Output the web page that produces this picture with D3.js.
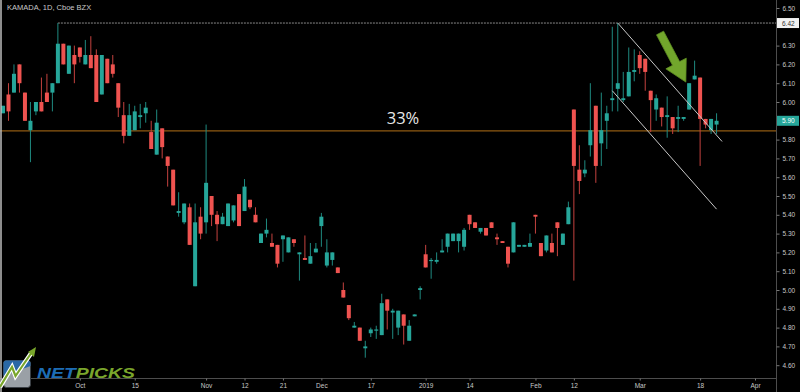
<!DOCTYPE html>
<html>
<head>
<meta charset="utf-8">
<script src="https://cdn.jsdelivr.net/npm/d3@7"></script>
<style>
  html, body { margin: 0; padding: 0; background: #000; }
  svg { display: block; font-family: "Liberation Sans", Arial, sans-serif; }
</style>
</head>
<body>
<svg width="800" height="392"></svg>
<script>
// daily candles, KAMADA (Sep 2018 - Mar 2019)
const opens = [
  5.94, 6.04, 6.05, 6.20, 6.05, 5.85, 5.95, 6.00, 6.05, 6.05,
  6.10, 6.31, 6.15, 6.25, 6.29, 6.20, 6.25, 6.25, 6.04, 6.23,
  6.20, 6.10, 5.93, 5.82, 5.85, 5.92, 5.94, 5.84, 5.72, 5.86,
  5.71, 5.64, 5.41, 5.36, 5.44, 5.02, 5.39, 5.36, 5.50, 5.40,
  5.35, 5.34, 5.37, 5.51, 5.42, 5.48, 5.40, 5.25, 5.30, 5.25,
  5.24, 5.27, 5.20, 5.27, 5.19, 5.17, 5.14, 5.20, 5.34, 5.13,
  5.16, 5.12, 5.00, 4.92, 4.80, 4.80, 4.69, 4.77, 4.79, 4.76,
  4.95, 4.88, 4.80, 4.87, 4.73, 4.86, 5.00, 5.19, 5.16, 5.15,
  5.20, 5.23, 5.26, 5.26, 5.23, 5.40, 5.36, 5.31, 5.33, 5.36,
  5.28, 5.26, 5.23, 5.20, 5.23, 5.23, 5.23, 5.40, 5.25, 5.21,
  5.25, 5.36, 5.24, 5.35, 5.96, 5.64, 5.62, 5.77, 5.98, 5.78,
  5.90, 6.01, 6.07, 6.01, 6.03, 6.16, 6.25, 6.23, 6.06, 5.96,
  5.97, 5.92, 5.92, 5.91, 5.91, 5.96, 6.12, 6.13, 5.91, 5.85, 5.88
];
const highs = [
  5.98, 6.10, 6.20, 6.20, 6.05, 6.00, 6.00, 6.13, 6.15, 6.10,
  6.42, 6.31, 6.30, 6.30, 6.29, 6.33, 6.35, 6.28, 6.25, 6.23,
  6.25, 6.10, 6.00, 5.99, 5.98, 5.99, 6.00, 5.90, 5.96, 5.86,
  5.71, 5.64, 5.52, 5.46, 5.46, 5.46, 5.44, 5.88, 5.50, 5.42,
  5.41, 5.46, 5.45, 5.51, 5.59, 5.48, 5.44, 5.30, 5.38, 5.30,
  5.24, 5.29, 5.28, 5.27, 5.20, 5.29, 5.25, 5.25, 5.41, 5.27,
  5.20, 5.12, 5.04, 4.92, 4.83, 4.80, 4.73, 4.80, 4.81, 4.98,
  4.95, 4.90, 4.89, 4.87, 4.84, 4.87, 5.02, 5.24, 5.17, 5.20,
  5.27, 5.30, 5.30, 5.30, 5.33, 5.40, 5.36, 5.33, 5.33, 5.36,
  5.30, 5.26, 5.23, 5.36, 5.24, 5.24, 5.30, 5.40, 5.25, 5.29,
  5.30, 5.36, 5.30, 5.47, 5.96, 5.77, 5.69, 6.10, 5.98, 6.05,
  5.98, 6.40, 6.42, 6.16, 6.29, 6.28, 6.27, 6.23, 6.06, 6.04,
  5.97, 6.03, 5.92, 5.98, 5.92, 6.10, 6.22, 6.13, 5.91, 5.91, 5.94
];
const lows = [
  5.94, 5.90, 6.05, 6.05, 5.90, 5.68, 5.93, 5.95, 6.00, 5.95,
  6.10, 6.20, 6.15, 6.10, 6.21, 6.20, 6.18, 6.00, 6.04, 6.10,
  6.13, 5.92, 5.78, 5.82, 5.85, 5.86, 5.89, 5.75, 5.72, 5.70,
  5.55, 5.45, 5.39, 5.35, 5.24, 5.02, 5.27, 5.30, 5.34, 5.26,
  5.35, 5.34, 5.36, 5.34, 5.42, 5.43, 5.36, 5.25, 5.28, 5.23,
  5.12, 5.15, 5.20, 5.23, 5.05, 5.16, 5.14, 5.20, 5.23, 5.12,
  5.13, 5.09, 4.96, 4.84, 4.80, 4.73, 4.64, 4.75, 4.74, 4.76,
  4.79, 4.74, 4.76, 4.71, 4.73, 4.86, 4.95, 5.12, 5.06, 5.14,
  5.20, 5.20, 5.26, 5.20, 5.21, 5.32, 5.33, 5.30, 5.29, 5.33,
  5.24, 5.25, 5.12, 5.20, 5.23, 5.23, 5.23, 5.30, 5.18, 5.20,
  5.20, 5.18, 5.24, 5.35, 5.05, 5.51, 5.60, 5.71, 5.57, 5.66,
  5.75, 5.95, 5.95, 6.00, 6.03, 6.11, 6.15, 6.06, 5.84, 5.90,
  5.87, 5.81, 5.83, 5.84, 5.90, 5.96, 6.12, 5.66, 5.86, 5.83, 5.83
];
const closes = [
  5.98, 5.95, 6.15, 6.10, 5.90, 5.90, 6.00, 5.95, 6.00, 6.10,
  6.31, 6.20, 6.30, 6.20, 6.24, 6.25, 6.18, 6.00, 6.25, 6.10,
  6.15, 5.97, 5.82, 5.93, 5.95, 5.93, 5.97, 5.75, 5.89, 5.76,
  5.66, 5.45, 5.42, 5.46, 5.24, 5.36, 5.30, 5.57, 5.40, 5.35,
  5.39, 5.46, 5.45, 5.34, 5.55, 5.44, 5.36, 5.30, 5.32, 5.23,
  5.14, 5.29, 5.28, 5.25, 5.20, 5.16, 5.18, 5.22, 5.39, 5.20,
  5.20, 5.09, 4.96, 4.85, 4.81, 4.73, 4.70, 4.79, 4.79, 4.93,
  4.89, 4.89, 4.89, 4.81, 4.81, 4.87, 5.01, 5.12, 5.16, 5.16,
  5.21, 5.30, 5.30, 5.30, 5.32, 5.35, 5.33, 5.33, 5.29, 5.33,
  5.27, 5.25, 5.14, 5.36, 5.24, 5.24, 5.25, 5.39, 5.18, 5.29,
  5.20, 5.33, 5.30, 5.44, 5.66, 5.58, 5.64, 5.85, 5.66, 5.85,
  5.94, 6.02, 6.10, 6.02, 6.16, 6.17, 6.18, 6.16, 6.01, 6.02,
  5.92, 5.93, 5.86, 5.92, 5.92, 6.10, 6.14, 5.91, 5.88, 5.91, 5.90
];

// time axis labels, by bar number
const tickIdx = [14, 24, 37, 44, 51, 58, 67, 77, 85, 97, 104, 116, 127, 137];
const tickLabels = ['Oct', '15', 'Nov', '12', '21', 'Dec', '17', '2019', '14', 'Feb', '12', 'Mar', '18', 'Apr'];

// price scale labels (6.40 and 5.90 sit under the price tags)
const priceTicks = [4.6, 4.7, 4.8, 4.9, 5.0, 5.1, 5.2, 5.3, 5.4, 5.5, 5.6, 5.7, 5.8, 6.0, 6.1, 6.2, 6.3, 6.5];
const highLevel = 6.42;      // dotted resistance line
const pctLevel = 5.846;      // orange line
const lastPrice = 5.90;

// drawn channel (bar number, price)
const channelLines = [
  [[112, 6.42], [131, 5.79]],
  [[111, 6.06], [130, 5.43]]
];
const arrowFrom = [119.7, 6.367];
const arrowTo = [124.4, 6.106];

const svg = d3.select('svg');
const width = +svg.attr('width');
const height = +svg.attr('height');
const axisX = 776, axisY = 378;

const bars = opens.map((o, i) => ({i: i, o: o, h: highs[i], l: lows[i], c: closes[i]}));

const x = d3.scaleLinear().domain([0, 137]).range([3, 755]);
const y = d3.scaleLinear().domain([4.6, 6.5]).range([365.2, 8]);

const up = '#26a69a', down = '#ef5350';

svg.append('rect').attr('width', width).attr('height', height).attr('fill', '#000');

//-----------------------------------------LEVELS-----------------------------------------//

svg.append('line')
    .attr('x1', x(10)).attr('x2', axisX)
    .attr('y1', y(highLevel)).attr('y2', y(highLevel))
    .attr('stroke', '#8a8a8a').attr('stroke-width', 1)
    .attr('stroke-dasharray', '2,1');

svg.append('line')
    .attr('x1', 0).attr('x2', axisX)
    .attr('y1', y(pctLevel)).attr('y2', y(pctLevel))
    .attr('stroke', '#8f5a12').attr('stroke-width', 1.2);

//-----------------------------------------CANDLES-----------------------------------------//

const g = svg.append('g').attr('class', 'candles');

g.selectAll('line.wick')
    .data(bars)
    .enter()
    .append('line')
    .attr('class', 'wick')
    .attr('x1', d => x(d.i)).attr('x2', d => x(d.i))
    .attr('y1', d => y(d.h)).attr('y2', d => y(d.l))
    .attr('stroke', d => d.c >= d.o ? '#1f8a80' : '#c4423f')
    .attr('stroke-width', 1);

g.selectAll('rect.body')
    .data(bars)
    .enter()
    .append('rect')
    .attr('class', 'body')
    .attr('x', d => x(d.i) - 2)
    .attr('width', 4)
    .attr('y', d => y(Math.max(d.o, d.c)))
    .attr('height', d => Math.max(1.2, Math.abs(y(d.o) - y(d.c))))
    .attr('fill', d => d.c >= d.o ? up : down);

//-----------------------------------------DRAWINGS-----------------------------------------//

svg.selectAll('line.channel')
    .data(channelLines)
    .enter()
    .append('line')
    .attr('class', 'channel')
    .attr('x1', d => x(d[0][0])).attr('y1', d => y(d[0][1]))
    .attr('x2', d => x(d[1][0])).attr('y2', d => y(d[1][1]))
    .attr('stroke', '#c8c8c8').attr('stroke-width', 1);

// fat green arrow
(function () {
    const x0 = x(arrowFrom[0]), y0 = y(arrowFrom[1]);
    const x1 = x(arrowTo[0]), y1 = y(arrowTo[1]);
    const len = Math.hypot(x1 - x0, y1 - y0);
    const ux = (x1 - x0) / len, uy = (y1 - y0) / len;
    const nx = -uy, ny = ux;
    const sw = 4, hw = 11.5, hl = 21;
    const bx = x1 - ux * hl, by = y1 - uy * hl;
    const pts = [
        [x0 + nx * sw, y0 + ny * sw],
        [bx + nx * sw, by + ny * sw],
        [bx + nx * hw, by + ny * hw],
        [x1, y1],
        [bx - nx * hw, by - ny * hw],
        [bx - nx * sw, by - ny * sw],
        [x0 - nx * sw, y0 - ny * sw]
    ];
    svg.append('path')
        .attr('d', d3.line()(pts) + 'Z')
        .attr('fill', '#72a62c')
        .attr('stroke', '#5f8f22')
        .attr('stroke-width', 0.8)
        .attr('stroke-linejoin', 'round');
})();

svg.append('text')
    .attr('x', 403).attr('y', 124)
    .attr('text-anchor', 'middle')
    .style('font-family', '"Open Sans", sans-serif')
    .style('font-size', '16.5px')
    .attr('fill', '#e8e8e8')
    .text('33%');

//-----------------------------------------AXES-----------------------------------------//

svg.append('line')
    .attr('x1', axisX + 0.5).attr('x2', axisX + 0.5)
    .attr('y1', 0).attr('y2', height)
    .attr('stroke', '#4d4d4d');

svg.append('line')
    .attr('x1', 0).attr('x2', axisX)
    .attr('y1', axisY + 0.5).attr('y2', axisY + 0.5)
    .attr('stroke', '#4d4d4d');

const yAxis = svg.append('g')
    .attr('transform', `translate(${axisX + 0.5},0)`)
    .call(d3.axisRight(y).tickValues(priceTicks).tickFormat(d3.format('.2f')).tickSize(3).tickPadding(3));
yAxis.select('.domain').remove();
yAxis.selectAll('line').attr('stroke', '#777');
yAxis.selectAll('text').attr('fill', '#c8c8c8').style('font-size', '6.5px')
    .style('font-family', '"Liberation Sans", Arial, sans-serif');

const xAxis = svg.append('g')
    .attr('transform', `translate(0,${axisY + 0.5})`)
    .call(d3.axisBottom(x).tickValues(tickIdx).tickFormat((d, i) => tickLabels[i]).tickSize(2).tickPadding(3));
xAxis.select('.domain').remove();
xAxis.selectAll('line').attr('stroke', '#777');
xAxis.selectAll('text').attr('fill', '#c8c8c8').style('font-size', '6.5px')
    .style('font-family', '"Liberation Sans", Arial, sans-serif');

// price tags on the scale
function priceTag(p, bg, fg, label) {
    const t = svg.append('g').attr('transform', `translate(${axisX + 1},${y(p)})`);
    t.append('rect').attr('x', 0).attr('y', -5).attr('width', 22).attr('height', 10).attr('fill', bg);
    t.append('text').attr('x', 5).attr('y', 2.5).attr('fill', fg)
        .style('font-size', '6.5px').text(label);
}
priceTag(highLevel, '#f2f2f2', '#333', d3.format('.2f')(highLevel));
priceTag(lastPrice, up, '#fff', d3.format('.2f')(lastPrice));

//-----------------------------------------TITLE / LOGO-----------------------------------------//

svg.append('text')
    .attr('x', 7).attr('y', 9.5)
    .attr('fill', '#c8c8c8')
    .style('font-size', '7.5px')
    .text('KAMADA, 1D, Cboe BZX');

svg.append('line')
    .attr('x1', 1).attr('x2', 1).attr('y1', 0).attr('y2', height)
    .attr('stroke', '#bdbdbd').attr('stroke-width', 1.5);

const logo = svg.append('g').attr('class', 'logo');
logo.append('rect')
    .attr('x', 3.5).attr('y', 360.5).attr('width', 27).attr('height', 27).attr('rx', 3)
    .attr('fill', '#9aa0a6').attr('stroke', '#3a3f45').attr('stroke-width', 1);
logo.append('path')
    .attr('d', 'M6.5,360.5 L27.5,360.5 Q30.5,360.5 30.5,363.5 L30.5,366 L3.5,376 L3.5,363.5 Q3.5,360.5 6.5,360.5 Z')
    .attr('fill', '#2a68a6');
logo.append('path')
    .attr('d', 'M0,387 L12,367 L15.5,376 L32,352')
    .attr('fill', 'none').attr('stroke', '#fff').attr('stroke-width', 4.5);
logo.append('path')
    .attr('d', 'M0,387 L12,367 L15.5,376 L32,352')
    .attr('fill', 'none').attr('stroke', '#79a62b').attr('stroke-width', 2.2);
logo.append('path')
    .attr('d', 'M28,352 L36,347 L34,357 Z')
    .attr('fill', '#79a62b');

const word = logo.append('text')
    .attr('x', 37).attr('y', 378)
    .style('font-size', '14.5px')
    .style('font-weight', 'bold')
    .style('font-style', 'italic')
    .attr('textLength', 98)
    .attr('lengthAdjust', 'spacingAndGlyphs');
word.append('tspan').attr('fill', '#1d6db5').text('NET');
word.append('tspan').attr('fill', '#7aa62c').text('PICKS');
</script>
</body>
</html>
